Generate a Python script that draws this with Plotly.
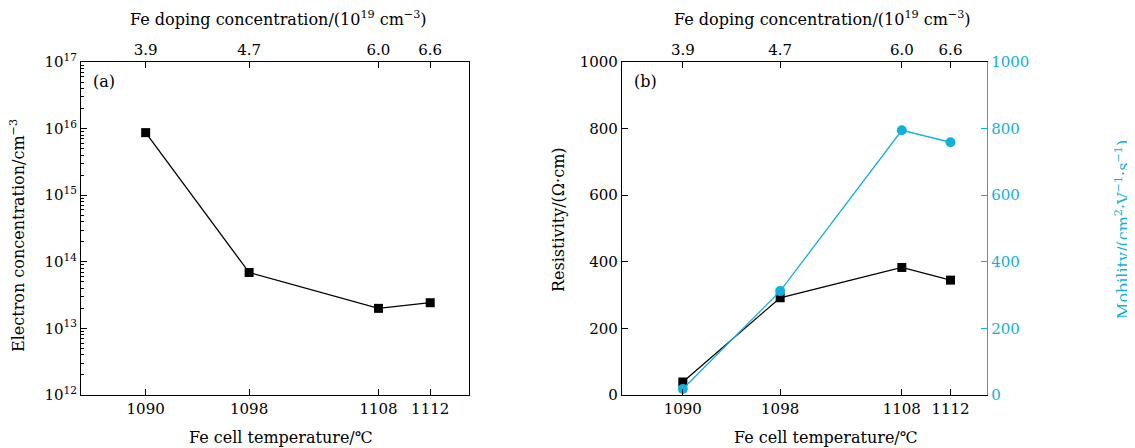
import plotly.graph_objects as go

temps = [1090, 1098, 1108, 1112]
doping = ["3.9", "4.7", "6.0", "6.6"]
electron_conc = [8.7e15, 6.9e13, 2.0e13, 2.43e13]
resistivity = [39, 292, 383, 345]
mobility = [18, 312, 795, 759]
log_tick_vals = [1e12, 1e13, 1e14, 1e15, 1e16, 1e17]
log_tick_text = ["10<sup>12</sup>", "10<sup>13</sup>", "10<sup>14</sup>", "10<sup>15</sup>", "10<sup>16</sup>", "10<sup>17</sup>"]
lin_ticks = [0, 200, 400, 600, 800, 1000]

CYAN = "#12b0dc"
FONT = "DejaVu Serif"
FS = 15
TFS = 16
W, H = 1135, 448
OFF = 8  # page body offset


def fx(px):
    return (px - OFF) / W


def fy(py):
    return 1 - (py - OFF) / H


minor_vals = [m * 10 ** e for e in range(12, 17) for m in range(2, 10)]

fig = go.Figure()

fig.add_trace(go.Scatter(x=temps, y=electron_conc, mode="lines+markers", xaxis="x", yaxis="y",
                         line=dict(color="black", width=1.3),
                         marker=dict(symbol="square", size=9, color="black"), showlegend=False))
# invisible helper traces so the top axes are drawn
fig.add_trace(go.Scatter(x=temps, y=electron_conc, mode="markers", xaxis="x2", yaxis="y",
                         marker=dict(opacity=0), hoverinfo="skip", showlegend=False))
fig.add_trace(go.Scatter(x=temps, y=resistivity, mode="markers", xaxis="x4", yaxis="y3",
                         marker=dict(opacity=0), hoverinfo="skip", showlegend=False))
fig.add_trace(go.Scatter(x=temps, y=resistivity, mode="lines+markers", xaxis="x3", yaxis="y3",
                         line=dict(color="black", width=1.3),
                         marker=dict(symbol="square", size=9, color="black"), showlegend=False))
fig.add_trace(go.Scatter(x=temps, y=mobility, mode="lines+markers", xaxis="x3", yaxis="y4",
                         line=dict(color=CYAN, width=1.3),
                         marker=dict(symbol="circle", size=10, color=CYAN), showlegend=False))

xa_dom = [fx(81), fx(469)]
xb_dom = [fx(622), fx(987)]
y_dom = [fy(395), fy(62)]

common_x = dict(range=[1085, 1115], tickvals=temps, ticks="inside", ticklen=6, tickcolor="black",
                showgrid=False, zeroline=False, showline=True, linecolor="black", linewidth=1.3,
                automargin=False, tickfont=dict(family=FONT, size=FS, color="black"))

fig.update_layout(
    width=W, height=H, margin=dict(l=0, r=0, t=0, b=0, autoexpand=False),
    paper_bgcolor="white", plot_bgcolor="white",
    xaxis=dict(domain=xa_dom, anchor="y", ticktext=[str(t) for t in temps], **common_x),
    xaxis2=dict(domain=xa_dom, anchor="y", overlaying="x", side="top", ticktext=doping, **common_x),
    yaxis=dict(domain=y_dom, anchor="x", type="log", range=[12, 17], tickvals=log_tick_vals,
               ticktext=log_tick_text, ticks="inside", ticklen=6, tickcolor="black",
               minor=dict(tickvals=minor_vals, ticks="inside", ticklen=3, tickcolor="black"),
               showgrid=False, zeroline=False, showline=True, linecolor="black", linewidth=1.3,
               mirror=True, automargin=False, tickfont=dict(family=FONT, size=FS, color="black")),
    xaxis3=dict(domain=xb_dom, anchor="y3", ticktext=[str(t) for t in temps], **common_x),
    xaxis4=dict(domain=xb_dom, anchor="y3", overlaying="x3", side="top", ticktext=doping, **common_x),
    yaxis3=dict(domain=y_dom, anchor="x3", range=[0, 1000], tickvals=lin_ticks, ticks="inside",
                ticklen=6, tickcolor="black", showgrid=False, zeroline=False, showline=True,
                linecolor="black", linewidth=1.3, automargin=False,
                tickfont=dict(family=FONT, size=FS, color="black")),
    yaxis4=dict(domain=y_dom, anchor="x3", overlaying="y3", side="right", range=[0, 1000],
                tickvals=lin_ticks, ticks="inside", ticklen=6, tickcolor=CYAN, showgrid=False,
                zeroline=False, showline=True, linecolor=CYAN, linewidth=1.3, automargin=False,
                tickfont=dict(family=FONT, size=FS, color=CYAN)),
)

top_title = "Fe doping concentration/(10<sup>19</sup> cm<sup>\u22123</sup>)"
bot_title = "Fe cell temperature/\u2103"
ann = [
    (278, 18, top_title),
    (822, 18, top_title),
    (281, 437, bot_title),
    (826, 437, bot_title),
]
for x, y, t in ann:
    fig.add_annotation(x=fx(x), y=fy(y), xref="paper", yref="paper", text=t, showarrow=False,
                       font=dict(family=FONT, size=TFS, color="black"), xanchor="center", yanchor="middle")

side_titles = [
    (17, 236, "Electron concentration/cm<sup>\u22123</sup>", "black"),
    (558, 220, "Resistivity/(\u03a9\u00b7cm)", "black"),
    (1122, 230, "Mobility/(cm<sup>2</sup>\u00b7V<sup>\u22121</sup>\u00b7s<sup>\u22121</sup>)", CYAN),
]
for x, y, t, c in side_titles:
    fig.add_annotation(x=fx(x), y=fy(y), xref="paper", yref="paper", text=t, showarrow=False, textangle=-90,
                       font=dict(family=FONT, size=TFS, color=c), xanchor="center", yanchor="middle")

fig.add_annotation(x=fx(91), y=fy(82), xref="paper", yref="paper", text="(a)", showarrow=False,
                   font=dict(family=FONT, size=TFS, color="black"), xanchor="left", yanchor="middle")
fig.add_annotation(x=fx(632), y=fy(82), xref="paper", yref="paper", text="(b)", showarrow=False,
                   font=dict(family=FONT, size=TFS, color="black"), xanchor="left", yanchor="middle")

fig.write_html("out.html")
